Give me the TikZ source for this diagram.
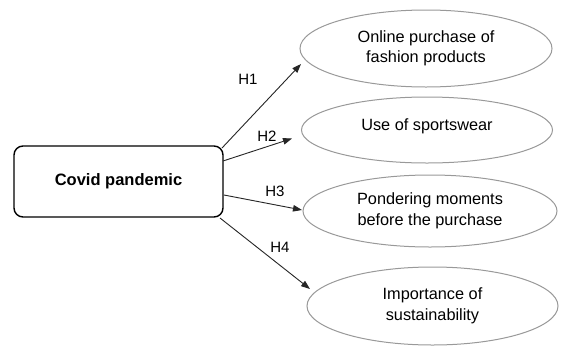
\documentclass[tikz,border=0pt]{standalone}
\usepackage{fontspec}
\setmainfont{Liberation Sans}
\usetikzlibrary{shapes.geometric,arrows.meta}
\begin{document}
\begin{tikzpicture}[x=1pt,y=-1pt,
  mainbox/.style={draw=black,line width=1.4pt,rounded corners=9pt,minimum width=209pt,minimum height=71pt,inner sep=0pt,font=\fontsize{16.5}{20}\selectfont\bfseries},
  oval/.style={draw=black!40,line width=1pt,ellipse,inner sep=0pt,align=center,font=\fontsize{16.3}{20.5}\selectfont},
  ovaltext/.style={inner sep=0pt,font=\fontsize{16.3}{20.5}\selectfont},
  hyp/.style={draw=black!85,line width=0.9pt,-{Triangle[length=9pt,width=6.5pt]}},
  hlab/.style={font=\fontsize{15}{18}\selectfont,inner sep=0pt}]
\useasboundingbox[fill=white] (0,0) rectangle (568,346);
\node[mainbox] (cp) at (118.5,181.5) {Covid pandemic};
\node[oval,minimum width=252pt,minimum height=77pt] (e1) at (426,48.5) {Online purchase of\\fashion products};
\node[oval,minimum width=251pt,minimum height=66pt] (e2) at (427,130) {};
\node[ovaltext] (e2t) at (427,126.5) {Use of sportswear};
\node[oval,minimum width=254pt,minimum height=72pt] (e3) at (430,211) {Pondering moments\\before the purchase};
\node[oval,minimum width=251pt,minimum height=78pt] (e4) at (432.5,306) {Importance of\\sustainability};
\coordinate (s1) at (222,148);
\coordinate (s2) at (223,161);
\coordinate (s3) at (224,195);
\coordinate (s4) at (220,218);
\coordinate (t1) at (301,64);
\coordinate (t2) at (292,138.5);
\coordinate (t3) at (302,210);
\coordinate (t4) at (310,289);
\draw[hyp] (s1) -- (t1);
\draw[hyp] (s2) -- (t2);
\draw[hyp] (s3) -- (t3);
\draw[hyp] (s4) -- (t4);
\node[hlab] (h1) at (248,79) {H1};
\node[hlab] (h2) at (267,136) {H2};
\node[hlab] (h3) at (275,191) {H3};
\node[hlab] (h4) at (280,247) {H4};
\end{tikzpicture}
\end{document}
